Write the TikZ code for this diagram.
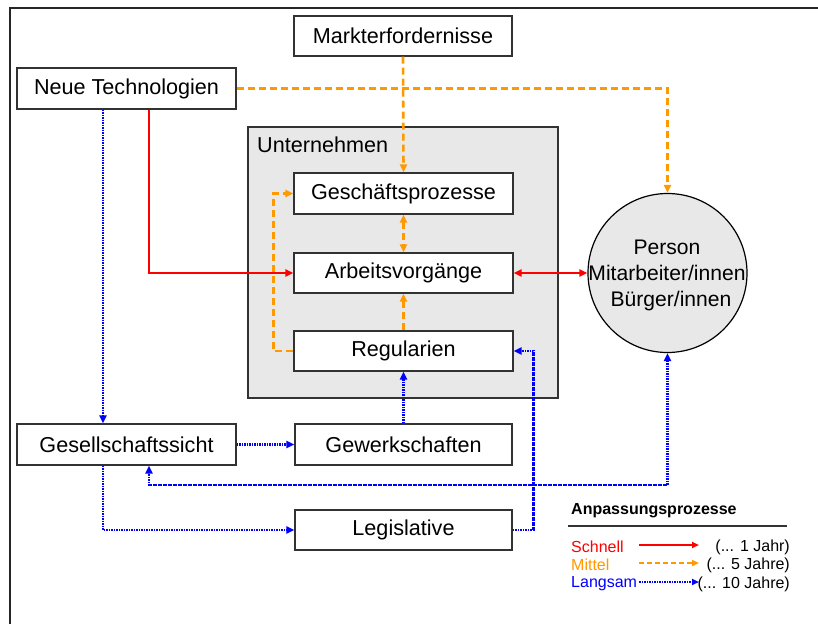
\documentclass[tikz,border=0pt]{standalone}
\usepackage{fontspec}
\setmainfont{Liberation Sans}
\usetikzlibrary{arrows.meta}
\definecolor{ored}{RGB}{255,0,0}
\definecolor{oorange}{RGB}{255,153,0}
\definecolor{oblue}{RGB}{0,0,255}
\definecolor{boxgray}{RGB}{232,232,232}
\definecolor{edgegray}{RGB}{50,50,50}
\tikzset{
  box/.style={draw=edgegray, line width=1.2pt, fill=white, rectangle, inner sep=0pt,
    minimum width=219pt, minimum height=41pt, font=\fontsize{21.6}{26}\selectfont},
  tip/.style={-{Triangle[length=8pt,width=7pt]}},
  tips/.style={{Triangle[length=8pt,width=7pt]}-{Triangle[length=8pt,width=7pt]}},
  fastline/.style={draw=ored, line width=2.5pt, tip},
  midline/.style={draw=oorange, line width=2.6pt, dash pattern=on 7pt off 4pt, tip},
  slowline/.style={draw=oblue, line width=2.6pt, dash pattern=on 1.6pt off 0.9pt, tip},
}
\begin{document}
\begin{tikzpicture}[x=1pt,y=-1pt]
\useasboundingbox (0,0) rectangle (818,624);
% frame
\draw[line width=1.6pt, draw=black!85] (10,624) -- (10,8) -- (818,8);

% Unternehmen area
\node[draw=edgegray, line width=1.2pt, fill=boxgray, rectangle, inner sep=0pt,
  minimum width=310pt, minimum height=271pt] (unt) at (403,262.5) {};
\node[anchor=west, font=\fontsize{21.6}{26}\selectfont, inner sep=0pt] (untl) at (257,145) {Unternehmen};

% boxes
\node[box, minimum width=218pt, minimum height=40pt] (mark) at (403,36) {Markterfordernisse};
\node[box] (neue) at (126.5,88.5) {Neue Technologien};
\node[box] (gp) at (403.5,193.5) {Geschäftsprozesse};
\node[box, minimum height=40pt] (av) at (403.5,273) {Arbeitsvorgänge};
\node[box, minimum height=40pt] (reg) at (403.5,351) {Regularien};
\node[box] (ges) at (126.5,444.5) {Gesellschaftssicht};
\node[box, minimum width=217pt] (gew) at (403.5,444.5) {Gewerkschaften};
\node[box, minimum width=217pt, minimum height=40pt] (leg) at (403.5,530) {Legislative};
\node[draw=black, line width=1.2pt, fill=boxgray, circle, minimum size=159pt, inner sep=0pt] (circ) at (667.5,273) {};
\node[align=center, inner sep=0pt, font=\fontsize{21.1}{26}\selectfont] (circt) at (667,275) {Person\\Mitarbeiter/innen\\\hspace*{8pt}Bürger/innen};

% connectors
\draw[fastline] ([xshift=22.5pt]neue.south) |- (av.west);
\draw[slowline] ([xshift=-23.5pt]neue.south) -- ([xshift=-23.5pt]ges.north);
\draw[midline] (neue.east) -| (circ.north);
\draw[midline] (mark.south) -- (gp.north);
\draw[midline, tips] (gp.south) -- (av.north);
\draw[midline] (reg.north) -- (av.south);
\draw[midline] (reg.west) -- ++(-20,0) |- (gp.west);
\draw[fastline, tips] (av.east) -- (circ.west);
\draw[slowline] (gew.north) -- (reg.south);
\draw[slowline] (ges.east) -- (gew.west);
\draw[slowline, tips] (circ.south) -- ++(0,132) -| ([xshift=22.5pt]ges.south);
\draw[slowline] ([xshift=-23.5pt]ges.south) |- (leg.west);
\draw[slowline] (leg.east) -- ++(21,0) |- (reg.east);

% legend
\node[anchor=west, inner sep=0pt, font=\fontsize{16}{19}\selectfont\bfseries] (lt) at (571,510.5) {Anpassungsprozesse};
\coordinate (ll) at (568,526);
\coordinate (lr) at (787,526);
\draw[line width=1.2pt, draw=black!80] (ll) -- (lr);
\node[anchor=west, inner sep=0pt, text=ored, font=\fontsize{16}{19}\selectfont] (ls) at (571,547) {Schnell};
\node[anchor=west, inner sep=0pt, text=oorange, font=\fontsize{16}{19}\selectfont] (lm) at (571,565) {Mittel};
\node[anchor=west, inner sep=0pt, text=oblue, font=\fontsize{16}{19}\selectfont] (lg) at (571,584) {Langsam};
\node[anchor=east, inner sep=0pt, font=\fontsize{16}{19}\selectfont] (rs) at (790,547) {(... 1 Jahr)};
\node[anchor=east, inner sep=0pt, font=\fontsize{16}{19}\selectfont] (rm) at (790,565) {(... 5 Jahre)};
\node[anchor=east, inner sep=0pt, font=\fontsize{16}{19}\selectfont] (rg) at (790,584) {(... 10 Jahre)};
\coordinate (as1) at (639,545);
\coordinate (as2) at (699,545);
\coordinate (am1) at (639,563);
\coordinate (am2) at (699,563);
\coordinate (ag1) at (639,582);
\coordinate (ag2) at (699,582);
\draw[fastline, line width=1.8pt, -{Triangle[length=7pt,width=6pt]}] (as1) -- (as2);
\draw[midline, line width=1.8pt, dash pattern=on 5pt off 3pt, -{Triangle[length=7pt,width=6pt]}] (am1) -- (am2);
\draw[slowline, line width=1.8pt, -{Triangle[length=7pt,width=6pt]}] (ag1) -- (ag2);
\end{tikzpicture}
\end{document}
